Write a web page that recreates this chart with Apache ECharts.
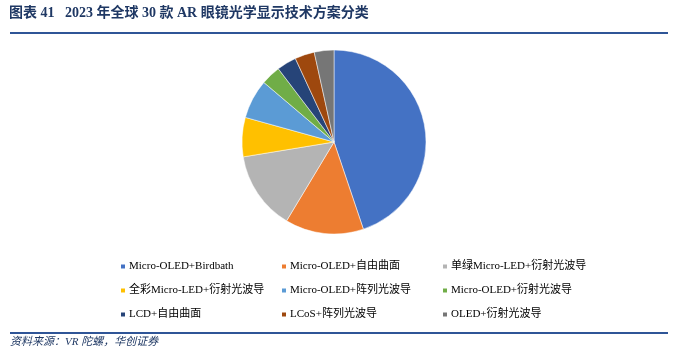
<!DOCTYPE html>
<html><head><meta charset="utf-8">
<script src="https://cdn.jsdelivr.net/npm/echarts@6/dist/echarts.min.js"></script>
<style>html,body{margin:0;padding:0;background:#fff}#c{width:675px;height:354px}</style>
</head><body><div id="c"></div>
<script>
const categories = ['Micro-OLED+Birdbath','Micro-OLED+自由曲面','单绿Micro-LED+衍射光波导','全彩Micro-LED+衍射光波导','Micro-OLED+阵列光波导','Micro-OLED+衍射光波导','LCD+自由曲面','LCoS+阵列光波导','OLED+衍射光波导'];
const counts = [13,4,4,2,2,1,1,1,1];
const colors = ['#4472C4','#ED7D31','#B4B4B4','#FFC000','#5B9BD5','#70AD47','#264478','#9E480E','#767676'];
const titleText = '图表 41   2023 年全球 30 款 AR 眼镜光学显示技术方案分类';
const sourceText = '资料来源：VR 陀螺，华创证券';

const chart = echarts.init(document.getElementById('c'));
const fontFam = '"Liberation Serif","Times New Roman","Noto Sans CJK SC",serif';
const colLefts = [119,280,441];
const rowTops = [261,285,309];
const legends = categories.map((n,k)=>({
  data: [n],
  left: colLefts[k%3], top: rowTops[Math.floor(k/3)],
  itemWidth: 6, itemHeight: 6, itemGap: 0, icon: 'rect',
  selectedMode: false, padding: 0,
  textStyle: {fontFamily: fontFam, fontSize: 11, color:'#000', padding:[0,0,0,-2]}
}));
chart.setOption({
  animation:false,
  color: colors,
  legend: legends,
  graphic: [
    {type:'text', left:9, top:6, style:{text:titleText, font:'bold 14px '+fontFam, fill:'#1F3864'}},
    {type:'rect', shape:{x:10,y:32,width:658,height:2}, style:{fill:'#2F5597'}},
    {type:'rect', shape:{x:10,y:332,width:658,height:2}, style:{fill:'#2F5597'}},
    {type:'text', left:10, top:337, style:{text:sourceText, font:'italic 11px '+fontFam, fill:'#1F3864'}}
  ],
  series:[{
    type:'pie', center:[334,142], radius:92, startAngle:90, clockwise:true,
    label:{show:false}, labelLine:{show:false},
    itemStyle:{borderColor:'#fff', borderWidth:0.5},
    emphasis:{disabled:true},
    data: categories.map((n,i)=>({name:n, value:counts[i]}))
  }]
});
</script></body></html>
